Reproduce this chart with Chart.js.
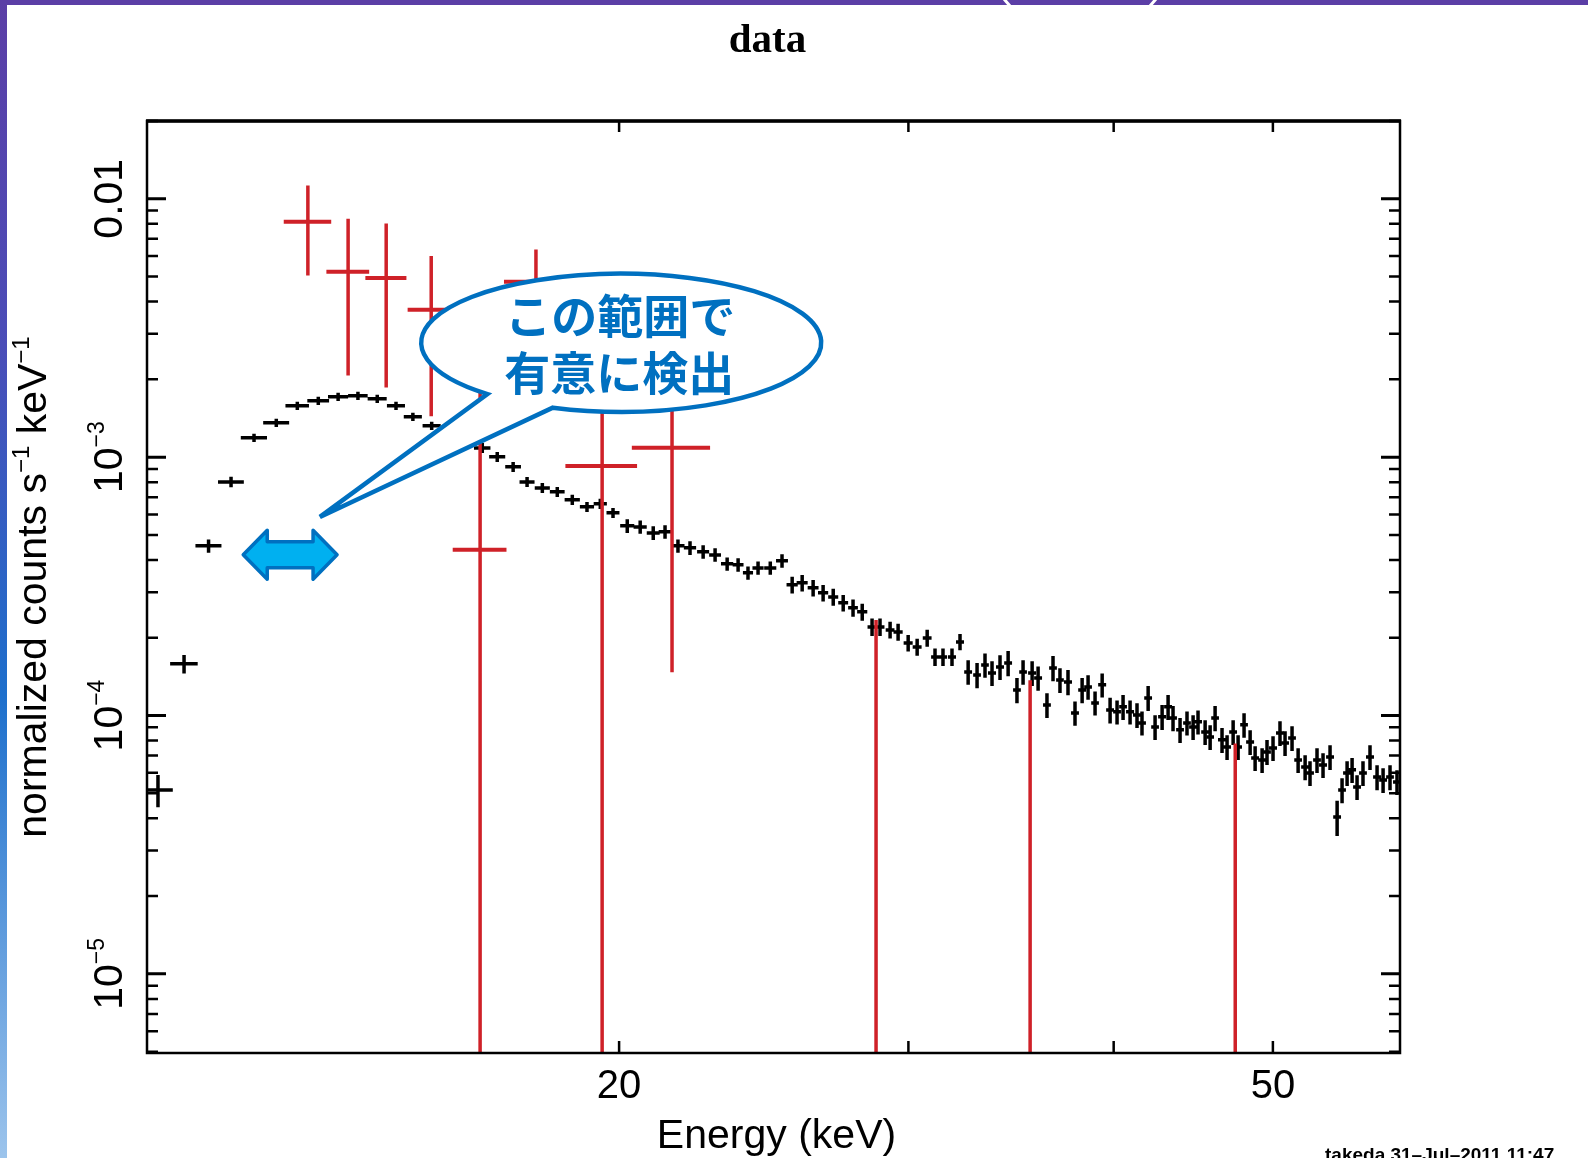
<!DOCTYPE html>
<html>
<head>
<meta charset="utf-8">
<script src="https://cdn.jsdelivr.net/npm/chart.js@4.4.1/dist/chart.umd.min.js"></script>
<style>
html,body{margin:0;padding:0;background:#fff;}
#c{display:block;}
</style>
</head>
<body>
<canvas id="c" width="1588" height="1158" style="width:1588px;height:1158px"></canvas>
<script>
// ---- data ----
const blackEnergy = [10.48,10.87,11.25,11.61,11.99,12.37,12.74,13.12,13.49,13.87,14.25,14.63,14.98,15.38,
16.51,16.86,17.24,17.58,17.96,18.34,18.73,19.12,19.48,19.83,
20.23,20.60,20.98,21.33,21.72,22.09,22.50,22.88,23.27,23.63,23.96,24.30,24.72,25.13,
25.49,25.85,26.25,26.62,27.00,27.38,27.76,28.12,28.51,28.83,29.24,29.57,29.99,30.37,30.80,31.14,31.49,31.89,32.25,
32.62,33.03,33.40,33.73,34.11,34.50,34.93,35.23,35.68,35.98,36.43,36.74,37.10,37.52,37.89,38.27,38.59,38.97,39.36,39.80,
40.19,40.53,40.93,41.33,41.62,41.98,42.39,42.81,43.17,43.47,43.90,44.33,44.71,45.02,45.47,45.79,46.11,46.56,46.89,47.29,
47.62,48.02,48.43,48.77,49.25,49.59,50.01,50.50,50.86,51.36,51.80,52.31,52.67,53.19,53.64,54.17,54.71,55.09,55.48,55.87,
56.26,56.73,57.29,57.86,58.35,58.92,59.50];
const blackHalfWidth = [0.22,0.21,0.205,0.21,0.22,0.225,0.21,0.2,0.19,0.19,0.19,0.185,0.19,0.195,
0.19,0.19,0.19,0.185,0.19,0.19,0.2,0.19,0.18,0.18,
0.2,0.19,0.19,0.19,0.2,0.19,0.19,0.19,0.2,0.18,0.17,0.19,0.21,0.21,
0.2,0.2,0.2,0.19,0.19,0.19,0.19,0.2,0.18,0.18,0.18,0.19,0.19,0.19,0.19,0.17,0.18,0.18,0.18,
0.18,0.18,0.18,0.19,0.19,0.19,0.19,0.19,0.2,0.2,0.2,0.2,0.2,0.21,0.21,0.21,0.21,0.21,0.22,0.22,0.22,0.22,
0.23,0.23,0.23,0.23,0.23,0.24,0.24,0.24,0.24,0.24,0.25,0.25,0.25,0.25,0.25,0.26,0.26,0.26,0.26,0.26,
0.27,0.27,0.27,0.27,0.28,0.28,0.28,0.28,0.28,0.29,0.29,0.29,0.3,0.3,0.3,0.3,0.31,0.31,0.31,0.31,
0.32,0.32,0.32,0.32,0.33];
const blackCounts = [5.15e-5,1.585e-4,4.535e-4,8.02e-4,1.188e-3,1.358e-3,1.58e-3,1.652e-3,1.712e-3,1.727e-3,1.681e-3,1.58e-3,1.432e-3,1.322e-3,
1.086e-3,1.003e-3,9.17e-4,8.02e-4,7.6e-4,7.34e-4,6.84e-4,6.42e-4,6.6e-4,6.09e-4,
5.42e-4,5.37e-4,5.09e-4,5.14e-4,4.535e-4,4.455e-4,4.3e-4,4.185e-4,3.863e-4,3.83e-4,3.565e-4,3.727e-4,3.727e-4,3.968e-4,
3.204e-4,3.261e-4,3.119e-4,2.983e-4,2.878e-4,2.729e-4,2.61e-4,2.519e-4,2.203e-4,2.203e-4,2.145e-4,2.107e-4,1.91e-4,1.843e-4,1.997e-4,1.686e-4,1.686e-4,1.686e-4,1.927e-4,
1.475e-4,1.436e-4,1.569e-4,1.462e-4,1.542e-4,1.598e-4,1.256e-4,1.475e-4,1.462e-4,1.398e-4,1.099e-4,1.528e-4,1.373e-4,1.349e-4,1.023e-4,1.256e-4,1.29e-4,1.119e-4,1.314e-4,1.051e-4,
1.033e-4,1.08e-4,1.033e-4,1.005e-4,9.36e-5,1.17e-4,9.03e-5,9.88e-5,1.08e-4,9.79e-5,8.8e-5,9.36e-5,9.03e-5,9.45e-5,8.64e-5,8.26e-5,9.79e-5,8.05e-5,7.56e-5,8.64e-5,
7.56e-5,9.2e-5,7.9e-5,6.85e-5,6.73e-5,7.23e-5,7.49e-5,8.56e-5,7.83e-5,8.19e-5,6.73e-5,6.32e-5,5.99e-5,6.73e-5,6.44e-5,6.91e-5,4.05e-5,5.15e-5,5.99e-5,6.16e-5,
5.29e-5,5.99e-5,6.91e-5,5.78e-5,5.63e-5,5.78e-5,5.53e-5];
const blackErr = [7.4e-6,1.3e-5,2.7e-5,3.7e-5,4.3e-5,4.9e-5,5.7e-5,6.0e-5,6.2e-5,6.2e-5,6.1e-5,5.7e-5,5.2e-5,4.8e-5,
4.9e-5,4.5e-5,4.1e-5,3.6e-5,3.4e-5,3.3e-5,3.1e-5,2.9e-5,3.0e-5,2.7e-5,
3.3e-5,3.2e-5,3.1e-5,3.1e-5,2.7e-5,2.7e-5,2.6e-5,2.5e-5,2.3e-5,2.3e-5,2.1e-5,2.2e-5,2.2e-5,2.4e-5,
2.4e-5,2.4e-5,2.3e-5,2.2e-5,2.2e-5,2.0e-5,2.0e-5,1.9e-5,1.7e-5,1.7e-5,1.6e-5,1.6e-5,1.4e-5,1.4e-5,1.5e-5,1.3e-5,1.3e-5,1.3e-5,1.4e-5,
1.6e-5,1.6e-5,1.7e-5,1.6e-5,1.7e-5,1.8e-5,1.4e-5,1.6e-5,1.6e-5,1.5e-5,1.2e-5,1.7e-5,1.5e-5,1.5e-5,1.1e-5,1.4e-5,1.4e-5,1.2e-5,1.4e-5,1.2e-5,
1.1e-5,1.2e-5,1.1e-5,1.1e-5,1.0e-5,1.3e-5,1.0e-5,1.1e-5,1.2e-5,1.1e-5,9.7e-6,1.0e-5,1.0e-5,1.0e-5,9.5e-6,9.1e-6,1.1e-5,8.9e-6,8.3e-6,9.5e-6,
8.3e-6,1.0e-5,8.7e-6,7.5e-6,7.4e-6,8.0e-6,8.2e-6,9.4e-6,8.6e-6,9.0e-6,7.4e-6,7.0e-6,6.6e-6,7.4e-6,7.1e-6,7.6e-6,6.3e-6,5.7e-6,6.6e-6,6.8e-6,
5.8e-6,6.6e-6,7.6e-6,6.4e-6,6.2e-6,6.4e-6,6.1e-6];

const redEnergy    = [12.93,13.68,14.43,15.37,16.46,17.80,19.53,21.54,28.67,35.58,47.43];
const redHalfWidth = [0.43,0.41,0.415,0.5,0.62,0.78,0.98,1.18,0.15,0.1,0.15];
const redCounts    = [8.15e-3,5.22e-3,4.94e-3,3.72e-3,4.38e-4,4.77e-3,9.25e-4,1.087e-3,-1.6e-4,-0.8e-4,-1.2e-4];
const redErr       = [3.1e-3,3.15e-3,3.08e-3,2.28e-3,1.6e-3,1.6e-3,1.2e-3,9.4e-4,3.94e-4,2.17e-4,1.98e-4];

const xTicks = [20,30,40,50];
const xTickLabels = [20,50];
const yTickValues = [0.01,1e-3,1e-4,1e-5];
const yTickBase = ['0.01','10','10','10'];
const yTickExp  = ['','\u22123','\u22124','\u22125'];
const titleText = 'data';
const xTitle = 'Energy (keV)';
const yTitleParts = ['normalized counts s','\u22121',' keV','\u22121'];
const bubbleLines = ['この範囲で','有意に検出'];
const stampText = 'takeda 31\u2013Jul\u20132011 11:47';

// ---- build error-bar segments ----
const FLOOR = 1e-9;
function hBars(E, dE, V){
  const out=[];
  for(let i=0;i<E.length;i++){
    if(!(V[i]>0)) continue;
    out.push({x:E[i]-dE[i],y:V[i]},{x:E[i]+dE[i],y:V[i]},{x:null,y:null});
  }
  return out;
}
function vBars(E, V, dV){
  const out=[];
  for(let i=0;i<E.length;i++){
    const lo=V[i]-dV[i];
    out.push({x:E[i],y:lo>0?lo:FLOOR},{x:E[i],y:V[i]+dV[i]},{x:null,y:null});
  }
  return out;
}
const RED='#cf2128';
function seg(data,color,w){
  return {data, borderColor:color, borderWidth:w, pointRadius:0, showLine:true, spanGaps:false, fill:false, tension:0, borderCapStyle:'butt'};
}

const decor = {
  id:'decor',
  beforeDraw(chart){
    const c=chart.ctx; c.save(); c.fillStyle='#fff'; c.fillRect(0,0,chart.width,chart.height); c.restore();
  },
  afterDraw(chart){
    const c=chart.ctx, xs=chart.scales.x, ys=chart.scales.y, a=chart.chartArea;
    c.save();
    c.strokeStyle='#000'; c.fillStyle='#000';
    // ticks (inward, all four sides)
    const e0=Math.floor(Math.log10(ys.min)), e1=Math.ceil(Math.log10(ys.max));
    for(let e=e0;e<=e1;e++){
      for(let k=1;k<=9;k++){
        const v=k*Math.pow(10,e);
        if(v<ys.min||v>ys.max) continue;
        const py=ys.getPixelForValue(v);
        const L = k===1?19:11;
        c.lineWidth = k===1?3:2.5;
        c.beginPath();
        c.moveTo(a.left,py); c.lineTo(a.left+L,py);
        c.moveTo(a.right,py); c.lineTo(a.right-L,py);
        c.stroke();
      }
    }
    c.lineWidth=2.5;
    for(const t of xTicks){
      const px=xs.getPixelForValue(t);
      c.beginPath();
      c.moveTo(px,a.bottom); c.lineTo(px,a.bottom-12);
      c.moveTo(px,a.top); c.lineTo(px,a.top+11);
      c.stroke();
    }
    // frame
    c.lineWidth=2.5;
    c.strokeRect(a.left,a.top,a.right-a.left,a.bottom-a.top);
    c.lineWidth=3.5;
    c.beginPath(); c.moveTo(a.left-1,a.top); c.lineTo(a.right+1,a.top); c.stroke();

    // x tick labels
    c.font='40px "Liberation Sans", Arial, sans-serif';
    c.textAlign='center'; c.textBaseline='alphabetic';
    for(const t of xTickLabels){
      c.fillText(String(t), xs.getPixelForValue(t), a.bottom+45);
    }
    // x title
    c.font='41px "Liberation Sans", Arial, sans-serif';
    c.fillText(xTitle,(a.left+a.right)/2+3,a.bottom+95);
    // title
    c.font='bold 41px "Liberation Serif", "Times New Roman", serif';
    c.fillText(titleText,(a.left+a.right)/2-6,52);

    // rotated y tick labels
    c.textAlign='left';
    for(let i=0;i<yTickValues.length;i++){
      const py=ys.getPixelForValue(yTickValues[i]);
      const parts=[{t:yTickBase[i],f:'41px "Liberation Sans", Arial, sans-serif',up:0}];
      if(yTickExp[i]) parts.push({t:yTickExp[i],f:'23px "Liberation Sans", Arial, sans-serif',up:18});
      drawRotRich(c,parts,a.left-25,py);
    }
    // y title
    const yparts=[
      {t:yTitleParts[0],f:'41px "Liberation Sans", Arial, sans-serif',up:0},
      {t:yTitleParts[1],f:'24px "Liberation Sans", Arial, sans-serif',up:17},
      {t:yTitleParts[2],f:'41px "Liberation Sans", Arial, sans-serif',up:0},
      {t:yTitleParts[3],f:'24px "Liberation Sans", Arial, sans-serif',up:17}
    ];
    drawRotRich(c,yparts,46,(a.top+a.bottom)/2);

    // stamp
    c.font='bold 19px "Liberation Sans Narrow", "Liberation Sans", Arial, sans-serif';
    c.textAlign='left';
    c.fillText(stampText,1325,1161);

    // ---- callout bubble ----
    const cx=xs.getPixelForValue(20.06), cy=ys.getPixelForValue(2.77e-3);
    const rx=200, ry=69;
    const tx=xs.getPixelForValue(13.15), ty=ys.getPixelForValue(5.87e-4);
    const t1=110*Math.PI/180, t2=132*Math.PI/180;
    c.beginPath();
    c.moveTo(tx,ty);
    c.lineTo(cx+rx*Math.cos(t1), cy+ry*Math.sin(t1));
    c.ellipse(cx,cy,rx,ry,0,t1,t2,true);
    c.lineTo(tx,ty);
    c.closePath();
    c.fillStyle='#fff'; c.fill();
    c.lineWidth=4.5; c.strokeStyle='#0070c0'; c.lineJoin='miter'; c.stroke();
    c.fillStyle='#0070c0';
    c.font='bold 46px "Noto Sans CJK JP", sans-serif';
    c.textAlign='center'; c.textBaseline='middle';
    c.fillText(bubbleLines[0],cx-1,cy-27);
    c.fillText(bubbleLines[1],cx-2,cy+30);

    // ---- double arrow ----
    const ax0=xs.getPixelForValue(11.81), ax1=xs.getPixelForValue(13.47), ay=ys.getPixelForValue(4.19e-4);
    const hl=24, hh=24.5, sh=13;
    c.beginPath();
    c.moveTo(ax0,ay);
    c.lineTo(ax0+hl,ay-hh); c.lineTo(ax0+hl,ay-sh); c.lineTo(ax1-hl,ay-sh); c.lineTo(ax1-hl,ay-hh);
    c.lineTo(ax1,ay);
    c.lineTo(ax1-hl,ay+hh); c.lineTo(ax1-hl,ay+sh); c.lineTo(ax0+hl,ay+sh); c.lineTo(ax0+hl,ay+hh);
    c.closePath();
    c.fillStyle='#00b0f0'; c.fill();
    c.lineWidth=3.5; c.lineJoin='round'; c.strokeStyle='#0070c0'; c.stroke();

    // ---- slide frame ----
    c.fillStyle='#5b3ea6';
    c.fillRect(0,0,chart.width,5);
    const g=c.createLinearGradient(0,0,0,chart.height);
    g.addColorStop(0,'#5b3ea6'); g.addColorStop(0.3,'#4a4db8'); g.addColorStop(0.6,'#1d6fcc'); g.addColorStop(1,'#9cc4ec');
    c.fillStyle=g; c.fillRect(0,0,7,chart.height);
    c.strokeStyle='#fff'; c.lineWidth=3;
    c.beginPath(); c.moveTo(1004,-1); c.lineTo(1010,6); c.moveTo(1156,-1); c.lineTo(1150,6); c.stroke();
    c.restore();
  }
};
function drawRotRich(c,parts,bx,cy){
  let w=0;
  for(const p of parts){ c.font=p.f; w+=c.measureText(p.t).width; }
  c.save();
  c.translate(bx,cy); c.rotate(-Math.PI/2);
  c.textAlign='left'; c.textBaseline='alphabetic'; c.fillStyle='#000';
  let x=-w/2;
  for(const p of parts){ c.font=p.f; c.fillText(p.t,x,-p.up); x+=c.measureText(p.t).width; }
  c.restore();
}

new Chart(document.getElementById('c'),{
  type:'scatter',
  data:{datasets:[
    seg(hBars(redEnergy,redHalfWidth,redCounts),RED,4),
    seg(vBars(redEnergy,redCounts,redErr),RED,3.5),
    seg(hBars(blackEnergy,blackHalfWidth,blackCounts),'#000',3.5),
    seg(vBars(blackEnergy,blackCounts,blackErr),'#000',3.5)
  ]},
  options:{
    responsive:false, animation:false, events:[],
    layout:{padding:{left:147,top:121,right:188,bottom:105}},
    plugins:{legend:{display:false},tooltip:{enabled:false},title:{display:false}},
    scales:{
      x:{type:'logarithmic',min:10.32,max:59.75,display:false},
      y:{type:'logarithmic',min:4.94e-6,max:0.02,display:false}
    }
  },
  plugins:[decor]
});
</script>
</body>
</html>
